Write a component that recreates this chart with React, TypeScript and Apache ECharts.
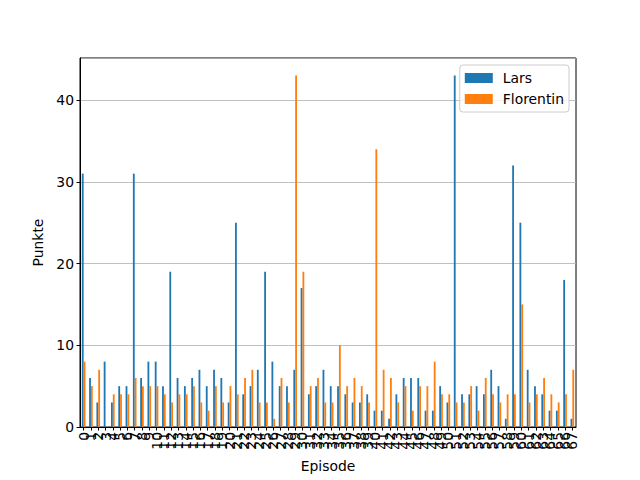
import React, { useEffect, useRef } from "react";
import * as echarts from "echarts";

const episodes: string[] = Array.from({ length: 68 }, (_, i) => String(i));

const lars: number[] = [
  31, 6, 3, 8, 3, 5, 5, 31, 6, 8, 8, 5, 19, 6, 5, 6, 7, 5, 7, 6,
  3, 25, 4, 5, 7, 19, 8, 5, 5, 7, 17, 4, 5, 7, 5, 5, 4, 3, 3, 4,
  2, 2, 1, 4, 6, 6, 6, 2, 2, 5, 3, 43, 4, 4, 5, 4, 7, 5, 1, 32,
  25, 7, 5, 4, 2, 2, 18, 1,
];

const florentin: number[] = [
  8, 5, 7, 0, 4, 4, 4, 6, 5, 5, 5, 4, 3, 4, 4, 5, 3, 2, 5, 3,
  5, 4, 6, 7, 3, 3, 1, 6, 3, 43, 19, 5, 6, 3, 3, 10, 5, 6, 5, 3,
  34, 7, 6, 3, 5, 2, 5, 5, 8, 4, 4, 3, 3, 5, 2, 6, 4, 3, 4, 4,
  15, 3, 4, 6, 4, 3, 4, 7,
];

const FONT = "DejaVu Sans";

export default function App() {
  const ref = useRef<HTMLDivElement>(null);

  useEffect(() => {
    if (!ref.current) return;
    const chart = echarts.init(ref.current, undefined, { renderer: "svg" });
    chart.setOption({
      animation: false,
      backgroundColor: "#ffffff",
      textStyle: { fontFamily: FONT },
      grid: {
        left: 80,
        right: 64,
        top: 58,
        bottom: 53,
        show: true,
        borderColor: "#000000",
        borderWidth: 1,
        backgroundColor: "transparent",
      },
      legend: {
        orient: "vertical",
        right: 71,
        top: 65,
        icon: "rect",
        itemWidth: 28,
        itemHeight: 10,
        itemGap: 7,
        padding: [6, 5, 6, 5],
        borderColor: "#cccccc",
        borderWidth: 1,
        borderRadius: 3,
        backgroundColor: "rgba(255,255,255,0.8)",
        textStyle: { fontFamily: FONT, fontSize: 13.9, color: "#000000", padding: [0, 0, 0, 5] },
        data: ["Lars", "Florentin"],
      },
      xAxis: {
        type: "category",
        data: episodes,
        name: "Episode",
        nameLocation: "middle",
        nameGap: 32,
        nameTextStyle: { fontFamily: FONT, fontSize: 13.9, color: "#000000" },
        axisLine: { show: true, lineStyle: { color: "#000000", width: 1 } },
        axisTick: { show: true, alignWithLabel: true, length: 3.5, lineStyle: { color: "#000000" } },
        axisLabel: {
          interval: 0,
          rotate: 90,
          fontFamily: FONT,
          fontSize: 13.9,
          color: "#000000",
          margin: 5,
          hideOverlap: false,
        },
        splitLine: { show: false },
      },
      yAxis: {
        type: "value",
        min: 0,
        max: 45.15,
        interval: 10,
        name: "Punkte",
        nameLocation: "middle",
        nameGap: 33,
        nameRotate: 90,
        nameTextStyle: { fontFamily: FONT, fontSize: 13.9, color: "#000000" },
        axisLine: { show: true, lineStyle: { color: "#000000", width: 1 } },
        axisTick: { show: true, length: 3.5, lineStyle: { color: "#000000" } },
        axisLabel: {
          fontFamily: FONT,
          fontSize: 13.9,
          color: "#000000",
          margin: 6,
          showMaxLabel: false,
        },
        splitLine: { show: true, lineStyle: { color: "#b0b0b0", width: 0.8 } },
      },
      series: [
        {
          name: "Lars",
          type: "bar",
          data: lars,
          itemStyle: { color: "#1f77b4" },
          barGap: "0%",
          barCategoryGap: "50%",
        },
        {
          name: "Florentin",
          type: "bar",
          data: florentin,
          itemStyle: { color: "#ff7f0e" },
          barGap: "0%",
          barCategoryGap: "50%",
        },
      ],
    });
    return () => chart.dispose();
  }, []);

  return (
    <div
      ref={ref}
      style={{ position: "fixed", left: 0, top: 0, width: 640, height: 480 }}
    />
  );
}
